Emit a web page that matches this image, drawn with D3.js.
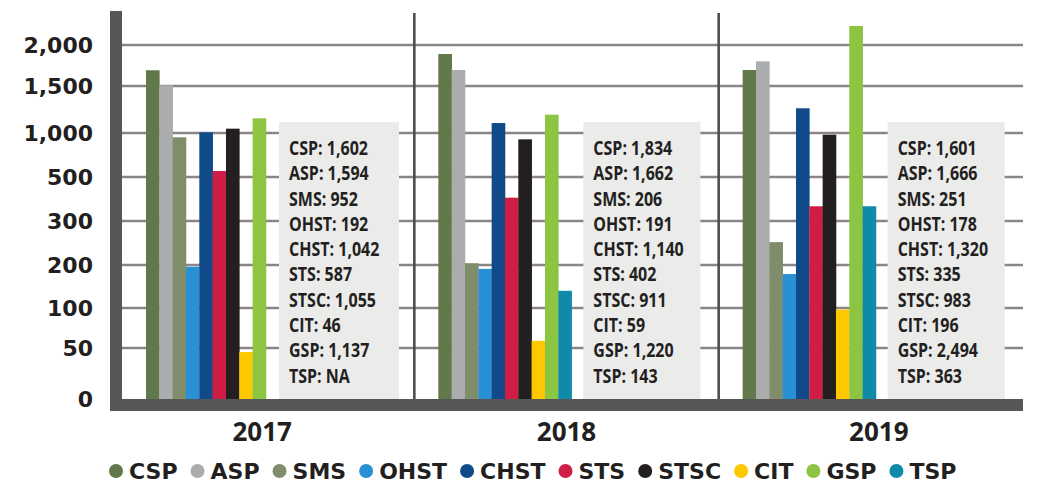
<!DOCTYPE html>
<html lang="en">
<head>
<meta charset="UTF-8" />
<title>Programs by year</title>
<script src="https://d3js.org/d3.v7.min.js"></script>
<style>
  body { margin: 0; background: #fff; }
  svg { display: block; }
</style>
</head>
<body>
<svg id="chart" width="1037" height="485"></svg>
<script>
// categories and years
var series = ["CSP", "ASP", "SMS", "OHST", "CHST", "STS", "STSC", "CIT", "GSP", "TSP"]
var years = ["2017", "2018", "2019"]
var yTicks = [0, 50, 100, 200, 300, 500, 1000, 1500, 2000]

// bar heights as drawn in the picture
var heights2017 = [1692, 1509, 951, 196, 1007, 568, 1046, 46, 1156, null]
var heights2018 = [1890, 1695, 204, 191, 1106, 406, 928, 59, 1195, 140]
var heights2019 = [1695, 1801, 252, 179, 1263, 367, 981, 98, 2232, 367]

// values printed in the grey boxes
var stated2017 = [1602, 1594, 952, 192, 1042, 587, 1055, 46, 1137, null]
var stated2018 = [1834, 1662, 206, 191, 1140, 402, 911, 59, 1220, 143]
var stated2019 = [1601, 1666, 251, 178, 1320, 335, 983, 196, 2494, 363]

var colors = ["#61784a", "#abacae", "#7f8d6b", "#2a90d4", "#114a89", "#cf1e46",
              "#231f20", "#fdc800", "#8cc541", "#108aa9"]

var heights = [heights2017, heights2018, heights2019]
var stated = [stated2017, stated2018, stated2019]

var svg = d3.select("#chart")
var fmt = d3.format(",")
var ink = "#231f20"

// axis is not linear: every tick gets the same step
var y = d3.scaleLinear()
  .domain([0, 50, 100, 200, 300, 500, 1000, 1500, 2000, 2500])
  .range([399, 348, 308, 265, 221, 177, 133, 86, 45, 4])

var x = d3.scaleBand().domain(years).range([110, 1023])
var axisRight = 122
var color = d3.scaleOrdinal().domain(series).range(colors)

// horizontal grid
svg.append("g")
  .selectAll("line")
  .data(yTicks.slice(1))
  .enter()
  .append("line")
  .attr("x1", 110).attr("x2", 1023)
  .attr("y1", function(d){ return y(d) }).attr("y2", function(d){ return y(d) })
  .attr("stroke", "#8b8584")
  .attr("stroke-width", 2.6)

// vertical separators between years
svg.append("g")
  .selectAll("line")
  .data(years.slice(1))
  .enter()
  .append("line")
  .attr("x1", function(d){ return x(d) }).attr("x2", function(d){ return x(d) })
  .attr("y1", 13).attr("y2", 400)
  .attr("stroke", "#4f4d4e")
  .attr("stroke-width", 2.6)

// bars
years.forEach(function(yr, i) {
  var start = Math.max(x(yr), axisRight) + 24
  var inner = d3.scaleBand().domain(series).range([start, start + 133.3])
  var rows = series.map(function(s, j){ return { key: s, value: heights[i][j] } })
    .filter(function(d){ return d.value != null })

  svg.append("g")
    .selectAll("rect")
    .data(rows)
    .enter()
    .append("rect")
    .attr("x", function(d){ return inner(d.key) })
    .attr("width", inner.bandwidth() + 0.3)
    .attr("y", function(d){ return y(d.value) })
    .attr("height", function(d){ return y(0) - y(d.value) })
    .attr("fill", function(d){ return color(d.key) })

  // grey value box
  var bx = x(yr) + 169
  var box = svg.append("g")
  box.append("rect")
    .attr("x", bx).attr("y", 122)
    .attr("width", i == 0 ? 120 : 117).attr("height", 277)
    .attr("fill", "#ebebea")

  // condensed look: squeeze the text sideways
  box.append("g")
    .attr("transform", "translate(" + (bx + 10) + ",0) scale(0.8,1)")
    .selectAll("text")
    .data(series)
    .enter()
    .append("text")
    .attr("x", 0)
    .attr("y", function(d, j){ return 155 + j * 25.3 })
    .attr("font-family", "'Open Sans', sans-serif")
    .attr("font-weight", "bold")
    .attr("font-size", 20)
    .attr("fill", ink)
    .text(function(d, j){
      var v = stated[i][j]
      return d + ": " + (v == null ? "NA" : fmt(v))
    })

  // year label
  svg.append("text")
    .attr("x", x(yr) + x.bandwidth() / 2 + (i == 2 ? 8 : 0))
    .attr("y", 441)
    .attr("text-anchor", "middle")
    .attr("font-family", "'Open Sans', sans-serif")
    .attr("font-weight", "bold")
    .attr("font-size", 26)
    .attr("fill", ink)
    .text(yr)
})

// thick axis bars
svg.append("rect").attr("x", 110).attr("y", 11).attr("width", 12).attr("height", 400).attr("fill", "#575556")
svg.append("rect").attr("x", 110).attr("y", 399).attr("width", 913).attr("height", 12).attr("fill", "#575556")

// tick labels
svg.append("g")
  .selectAll("text")
  .data(yTicks)
  .enter()
  .append("text")
  .attr("x", 93)
  .attr("y", function(d){ return y(d) + 8 })
  .attr("text-anchor", "end")
  .attr("font-family", "'DejaVu Sans', sans-serif")
  .attr("font-weight", "bold")
  .attr("font-size", 22)
  .attr("fill", ink)
  .text(function(d){ return fmt(d) })

// legend, laid out one item after another
var legend = svg.append("g")
var cx = 116
series.forEach(function(s) {
  legend.append("circle")
    .attr("cx", cx).attr("cy", 471).attr("r", 7)
    .attr("fill", color(s))
  var t = legend.append("text")
    .attr("x", cx + 13).attr("y", 479)
    .attr("font-family", "'DejaVu Sans', sans-serif")
    .attr("font-weight", "bold")
    .attr("font-size", 22)
    .attr("fill", ink)
    .text(s)
  cx = cx + 13 + t.node().getComputedTextLength() + 20
})
</script>
</body>
</html>
